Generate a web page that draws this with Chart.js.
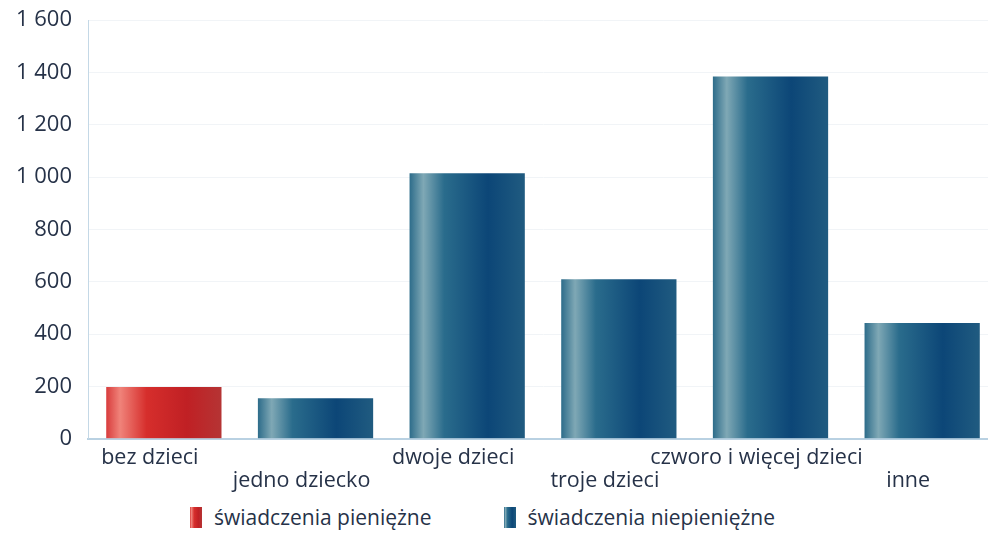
<!DOCTYPE html>
<html>
<head>
<meta charset="utf-8">
<script src="https://cdn.jsdelivr.net/npm/chart.js@4/dist/chart.umd.min.js"></script>
<style>
  html, body { margin: 0; padding: 0; background: #fff; overflow: hidden; }
  #wrap { position: relative; width: 998px; height: 512px; margin-top: -9px; }
  #legend { position: absolute; left: 190px; top: 503px; display: flex; gap: 72px;
            font-family: 'Open Sans', sans-serif; font-size: 21px; color: #263248; }
  #legend .item { display: flex; align-items: center; }
  #legend .box { width: 12px; height: 21px; margin-right: 12px; }
</style>
</head>
<body>
<div id="wrap"><canvas id="c"></canvas></div>
<div id="legend"></div>
<script>
const categories = ['bez dzieci', 'jedno dziecko', 'dwoje dzieci', 'troje dzieci', 'czworo i więcej dzieci', 'inne'];
const pieniezne = [198, null, null, null, null, null];
const niepieniezne = [null, 155, 1015, 610, 1385, 443];
const seriesNames = ['świadczenia pieniężne', 'świadczenia niepieniężne'];
const yTicks = [0, 200, 400, 600, 800, 1000, 1200, 1400, 1600];

const redStops = [[0, '#d83c3c'], [0.12, '#f0837a'], [0.35, '#d62e2c'], [0.7, '#c02024'], [1, '#b53434']];
const blueStops = [[0, '#2d6c8a'], [0.12, '#7fa8b5'], [0.3, '#2a6c8c'], [0.68, '#0c4677'], [1, '#205b80']];

const textColor = '#263248';
const barPct = 0.76;

function barGradient(stops, fallback) {
  return ctx => {
    const chart = ctx.chart;
    const xs = chart.scales.x;
    if (!xs || ctx.dataIndex === undefined) return fallback;
    const half = xs.width / categories.length * barPct / 2;
    const cx = xs.getPixelForValue(ctx.dataIndex);
    if (!isFinite(cx) || !isFinite(half) || half <= 0) return fallback;
    const g = chart.ctx.createLinearGradient(cx - half, 0, cx + half, 0);
    stops.forEach(s => g.addColorStop(s[0], s[1]));
    return g;
  };
}

const cssGradient = stops => 'linear-gradient(to right, ' + stops.map(s => s[1] + ' ' + (s[0] * 100) + '%').join(', ') + ')';

const fmt = v => String(v).replace(/\B(?=(\d{3})+(?!\d))/g, ' ');

// legend
const legendEl = document.getElementById('legend');
[[seriesNames[0], redStops], [seriesNames[1], blueStops]].forEach(([name, stops]) => {
  const item = document.createElement('div');
  item.className = 'item';
  const box = document.createElement('span');
  box.className = 'box';
  box.style.background = cssGradient(stops);
  const txt = document.createElement('span');
  txt.textContent = name;
  item.appendChild(box);
  item.appendChild(txt);
  legendEl.appendChild(item);
});

new Chart(document.getElementById('c'), {
  type: 'bar',
  data: {
    labels: categories,
    datasets: [
      { label: seriesNames[0], data: pieniezne, backgroundColor: barGradient(redStops, '#d12b2b') },
      { label: seriesNames[1], data: niepieniezne, backgroundColor: barGradient(blueStops, '#1a5a80') }
    ]
  },
  options: {
    responsive: true,
    maintainAspectRatio: false,
    animation: false,
    layout: { padding: { left: 0, right: 0, top: 3, bottom: 3 } },
    datasets: { bar: { categoryPercentage: barPct, barPercentage: 1 } },
    plugins: {
      tooltip: { enabled: false },
      legend: { display: false }
    },
    scales: {
      x: {
        stacked: true,
        grid: { display: false, drawTicks: false },
        border: { color: '#b9d1e2', width: 2 },
        ticks: {
          autoSkip: false,
          maxRotation: 0,
          padding: 8,
          labelOffset: -14,
          color: textColor,
          font: { family: 'Open Sans', size: 21.5, lineHeight: 1.05 },
          callback: (v, i) => i % 2 ? ['', categories[i]] : categories[i]
        }
      },
      y: {
        stacked: true,
        min: 0,
        max: 1600,
        afterBuildTicks: axis => { axis.ticks = yTicks.map(v => ({ value: v })); },
        grid: { color: '#f1f4f7', drawTicks: false },
        border: { color: '#c4d8e6', width: 1 },
        ticks: {
          padding: 16,
          color: textColor,
          font: { family: 'Open Sans', size: 22 },
          callback: v => fmt(v)
        }
      }
    }
  }
});
</script>
</body>
</html>
